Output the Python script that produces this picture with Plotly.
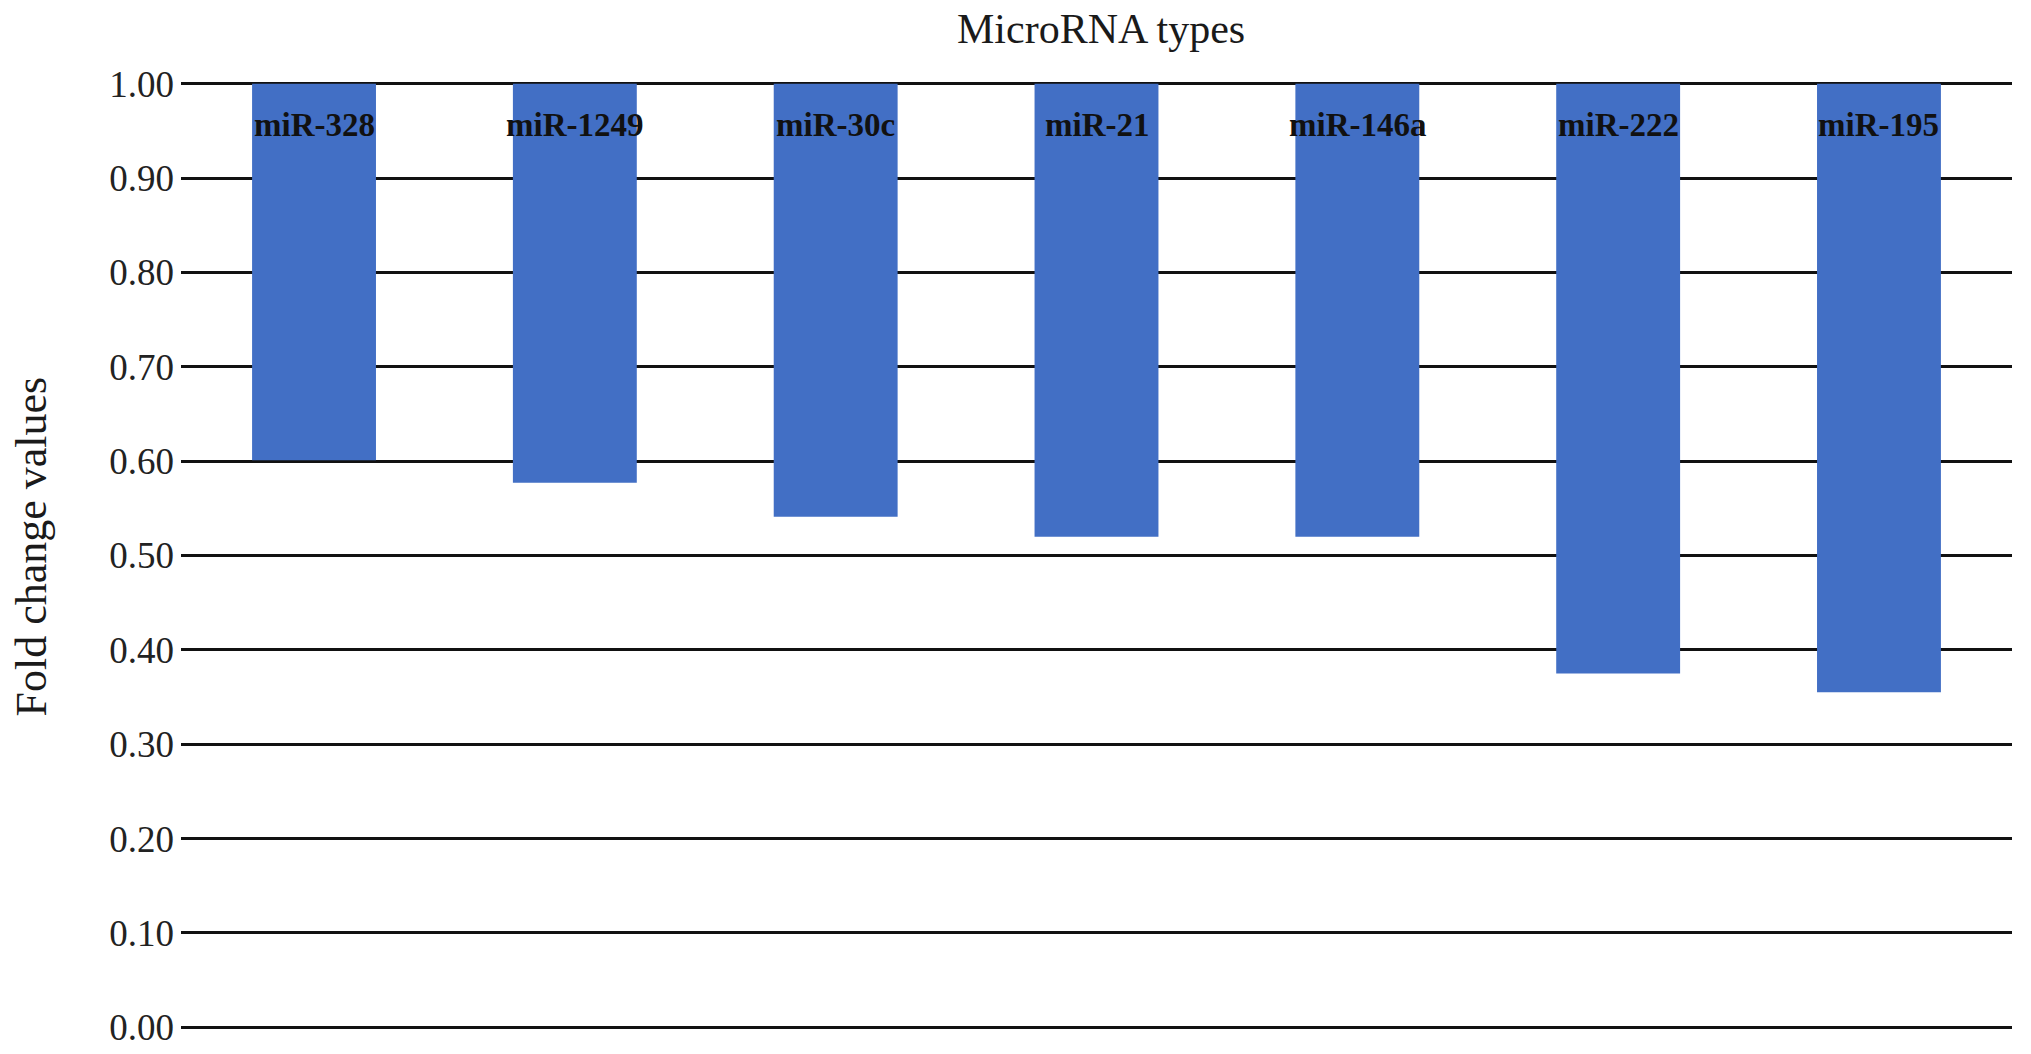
import plotly.graph_objects as go

# ---- data ----
categories = ["miR-328", "miR-1249", "miR-30c", "miR-21", "miR-146a", "miR-222", "miR-195"]
fold_change = [0.601, 0.577, 0.541, 0.520, 0.520, 0.375, 0.355]
baseline = 1.0
tick_values = [0.0, 0.1, 0.2, 0.3, 0.4, 0.5, 0.6, 0.7, 0.8, 0.9, 1.0]
tick_labels = ["0.00", "0.10", "0.20", "0.30", "0.40", "0.50", "0.60", "0.70", "0.80", "0.90", "1.00"]

SERIF = "Liberation Serif, Times New Roman, serif"
BAR_COLOR = "#426fc5"

fig = go.Figure()
fig.add_trace(go.Bar(
    x=categories,
    y=[v - baseline for v in fold_change],
    base=[baseline] * len(categories),
    width=0.475,
    marker=dict(color=BAR_COLOR, line=dict(width=0)),
    hoverinfo="skip",
))

annotations = []
for c in categories:
    annotations.append(dict(
        x=c, y=baseline, xref="x", yref="y",
        text="<b>" + c + "</b>", showarrow=False,
        xanchor="center", yanchor="top", yshift=-21,
        font=dict(family=SERIF, size=33, color="#111111"),
    ))

annotations.append(dict(
    x=0, y=0.5, xref="paper", yref="paper",
    text="Fold change values", showarrow=False, textangle=-90,
    xanchor="center", yanchor="middle", xshift=-150, yshift=9,
    font=dict(family=SERIF, size=44, color="#1a1a1a"),
))
annotations.append(dict(
    x=0.5, y=1, xref="paper", yref="paper",
    text="MicroRNA types", showarrow=False,
    xanchor="center", yanchor="bottom", xshift=4, yshift=25,
    font=dict(family=SERIF, size=42, color="#1a1a1a"),
))

fig.update_layout(
    width=2023, height=1046,
    margin=dict(l=173, r=19, t=71, b=22, autoexpand=False),
    paper_bgcolor="white", plot_bgcolor="white",
    showlegend=False,
    annotations=annotations,
)
fig.update_xaxes(
    range=[-0.51, len(categories) - 0.49],
    showticklabels=False, showgrid=False, zeroline=False, showline=False, ticks="",
)
fig.update_yaxes(
    range=[-0.005, 1.005],
    tickmode="array", tickvals=tick_values, ticktext=tick_labels,
    tickfont=dict(family=SERIF, size=37, color="#222222"),
    showgrid=True, gridcolor="#111111", gridwidth=3,
    zeroline=False, showline=False, ticks="", ticklabelstandoff=6,
    layer="below traces",
)

fig.write_html("out.html")
